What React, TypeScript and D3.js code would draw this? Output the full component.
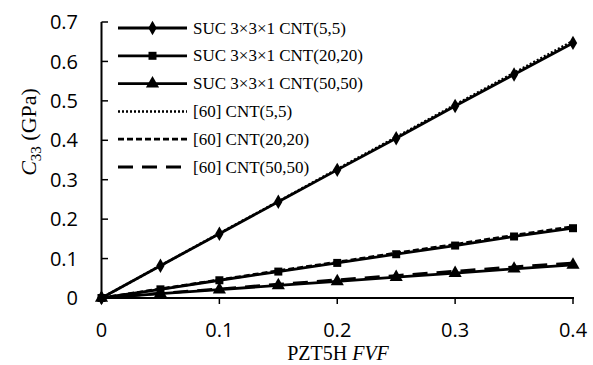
import React from "react";
import * as d3 from "d3";

const fvf = [0, 0.05, 0.1, 0.15, 0.2, 0.25, 0.3, 0.35, 0.4];
const suc55 = [0, 0.082, 0.163, 0.244, 0.325, 0.405, 0.487, 0.567, 0.647];
const suc2020 = [0, 0.022, 0.045, 0.067, 0.089, 0.111, 0.133, 0.156, 0.177];
const suc5050 = [0, 0.011, 0.021, 0.032, 0.042, 0.053, 0.063, 0.074, 0.084];
const ref55 = [0, 0.082, 0.164, 0.245, 0.327, 0.408, 0.49, 0.571, 0.652];
const ref2020 = [0, 0.023, 0.046, 0.069, 0.091, 0.114, 0.136, 0.159, 0.181];
const ref5050 = [0, 0.012, 0.023, 0.035, 0.046, 0.057, 0.068, 0.079, 0.089];
const xTicks = [0, 0.1, 0.2, 0.3, 0.4];
const yTicks = [0, 0.1, 0.2, 0.3, 0.4, 0.5, 0.6, 0.7];

const legendLabels = [
  "SUC 3×3×1 CNT(5,5)",
  "SUC 3×3×1 CNT(20,20)",
  "SUC 3×3×1 CNT(50,50)",
  "[60] CNT(5,5)",
  "[60] CNT(20,20)",
  "[60] CNT(50,50)",
];

export default function App() {
  const W = 593, H = 365;
  const x = d3.scaleLinear().domain([0, 0.4]).range([101.5, 573]);
  const y = d3.scaleLinear().domain([0, 0.7]).range([298, 22]);
  const line = (vals: number[]) =>
    d3.line<number>().x((_, i) => x(fvf[i])).y((v) => y(v))(vals) || "";

  const refStyles = [
    { vals: ref55, dash: "2,2", w: 2.5 },
    { vals: ref2020, dash: "6,3", w: 2.8 },
    { vals: ref5050, dash: "15,9", w: 2.8 },
  ];
  const sucSeries = [
    { vals: suc55, marker: "diamond" },
    { vals: suc2020, marker: "square" },
    { vals: suc5050, marker: "triangle" },
  ];
  const sym = {
    diamond: d3.symbol().type(d3.symbolDiamond).size(60)() || "",
    square: d3.symbol().type(d3.symbolSquare).size(64)() || "",
    triangle: d3.symbol().type(d3.symbolTriangle).size(75)() || "",
  } as Record<string, string>;

  const sansFont = "'Open Sans', sans-serif";
  const serif = "'Liberation Serif', 'Times New Roman', serif";
  const legX1 = 118, legX2 = 187, legY0 = 28, legDy = 27.8;

  return (
    <svg width={W} height={H} style={{ position: "absolute", left: 0, top: 0, background: "#fff" }}>
      <rect width={W} height={H} fill="#fff" />
      {sucSeries.map((s, i) => (
        <g key={"s" + i}>
          <path d={line(s.vals)} fill="none" stroke="#000" strokeWidth={2.8} />
          {s.vals.map((v, j) => (
            <path key={j} d={sym[s.marker]} transform={`translate(${x(fvf[j])},${y(v)})`} fill="#000" />
          ))}
        </g>
      ))}
      {refStyles.map((r, i) => (
        <path key={"r" + i} d={line(r.vals)} fill="none" stroke="#000" strokeWidth={r.w} strokeDasharray={r.dash} />
      ))}
      <line x1={101.5} x2={101.5} y1={22} y2={298} stroke="#000" strokeWidth={2} />
      <line x1={101.5} x2={574} y1={298} y2={298} stroke="#000" strokeWidth={2} />
      {yTicks.map((t) => (
        <g key={"yt" + t}>
          <line x1={101.5} x2={108} y1={y(t)} y2={y(t)} stroke="#000" strokeWidth={1.5} />
          <text x={78} y={y(t)} dy="0.36em" textAnchor="end" fontFamily={sansFont} fontSize={20} fill="#000">
            {t === 0 ? "0" : t.toFixed(1)}
          </text>
        </g>
      ))}
      {xTicks.map((t) => (
        <g key={"xt" + t}>
          <line x1={x(t)} x2={x(t)} y1={298} y2={304} stroke="#000" strokeWidth={1.5} />
          <text x={x(t)} y={337} textAnchor="middle" fontFamily={sansFont} fontSize={20} fill="#000">
            {t === 0 ? "0" : t.toFixed(1)}
          </text>
        </g>
      ))}
      <text x={338} y={360} textAnchor="middle" fontFamily={serif} fontSize={20} fill="#000">
        PZT5H <tspan fontStyle="italic">FVF</tspan>
      </text>
      <text transform="translate(36,132) rotate(-90)" textAnchor="middle" fontFamily={serif} fontSize={22} fill="#000">
        <tspan fontStyle="italic">C</tspan>
        <tspan fontSize={15} dy={5}>33</tspan>
        <tspan dy={-5}> (GPa)</tspan>
      </text>
      {legendLabels.map((lab, i) => {
        const ly = legY0 + i * legDy;
        const isRef = i >= 3;
        const rs = isRef ? refStyles[i - 3] : null;
        return (
          <g key={"l" + i}>
            <line x1={legX1} x2={legX2} y1={ly} y2={ly} stroke="#000"
              strokeWidth={isRef ? rs!.w : 2.8} strokeDasharray={isRef ? rs!.dash : undefined} />
            {!isRef && (
              <path d={sym[sucSeries[i].marker]} transform={`translate(${(legX1 + legX2) / 2},${ly})`} fill="#000" />
            )}
            <text x={193} y={ly} dy="0.33em" fontFamily={serif} fontSize={17} fill="#000">{lab}</text>
          </g>
        );
      })}
    </svg>
  );
}
